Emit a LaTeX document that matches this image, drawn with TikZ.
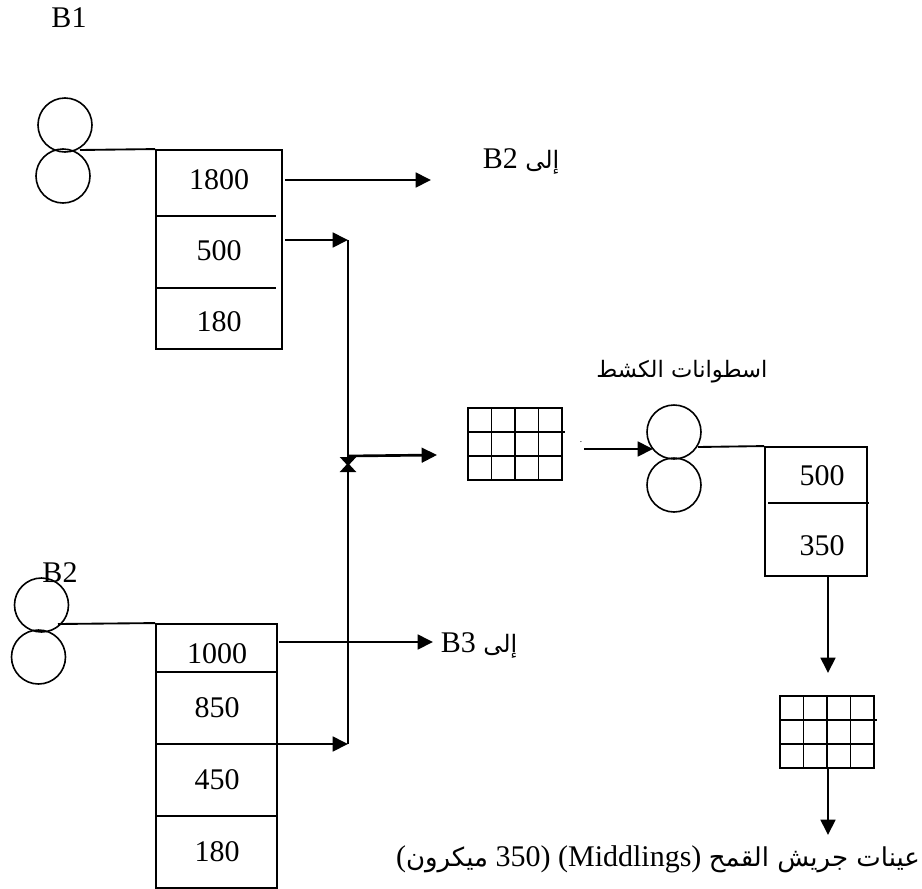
\documentclass[tikz,border=0pt]{standalone}
\usepackage{fontspec}
\setmainfont{Liberation Serif}
\newfontfamily\arabicfont[Script=Arabic]{DejaVu Sans}
\TeXXeTstate=1
\usetikzlibrary{arrows.meta}
\newcommand{\arb}[2][17]{{\arabicfont\fontsize{#1}{20}\selectfont #2}}
\tikzset{
  lbl/.style={inner sep=0pt,font=\fontsize{22.5}{27}\selectfont},
  roller/.style={shape=circle,draw=black,line width=1.2pt,minimum size=40.5pt,inner sep=0pt},
  sifter/.style={shape=rectangle,draw=black,line width=1.4pt,inner sep=0pt},
  cell/.style={draw=black,line width=1.4pt},
  feed/.style={-{Triangle[length=11.5pt,width=11pt]},draw=black,line width=2pt},
  meet/.style={-{Triangle[length=6.75pt,width=12pt]},draw=black,line width=2pt},
  sieve/.pic={
    \node[shape=rectangle,draw=black,line width=1.4pt,minimum width=70.5pt,minimum height=54pt,inner sep=0pt] (-frame) at (0,0) {};
    \foreach \x in {-23.5,0,23.5} \draw[cell] (\x,-36) -- (\x,36);
    \draw[cell] (-47,-12) -- (50,-12);
    \draw[cell] (-47,12) -- (47,12);
  }
}
\begin{document}
\begin{tikzpicture}[x=0.75pt,y=-0.75pt]
\useasboundingbox (0,0) rectangle (922,889);

\node[lbl] (b1) at (69,18) {B1};
\node[lbl] (b2) at (60,573) {B2};

\node[roller] (roll1a) at (65,125) {};
\node[roller] (roll1b) at (63,176) {};
\node[roller] (roll2a) at (41.5,605) {};
\node[roller] (roll2b) at (38.5,657) {};
\node[roller] (roll3a) at (674,432) {};
\node[roller] (roll3b) at (674,485) {};

\node[sifter,minimum width=94.5pt,minimum height=149.25pt] (box1) at (219,249.5) {};
\node[sifter,minimum width=90.75pt,minimum height=198pt] (box2) at (216.5,756) {};
\node[sifter,minimum width=76.5pt,minimum height=96.75pt] (box3) at (816,511.5) {};

\draw[cell] (156,216) -- (276,216);
\draw[cell] (156,288) -- (276,288);
\draw[cell] (156,672) -- (277,672);
\draw[cell] (156,744) -- (277,744);
\draw[cell] (156,816) -- (277,816);
\draw[cell] (768,503) -- (869,503);

\node[lbl] (v1800) at (219,180) {1800};
\node[lbl] (v500a) at (219,251) {500};
\node[lbl] (v180a) at (219,322) {180};
\node[lbl] (v1000) at (217,654) {1000};
\node[lbl] (v850) at (217,708) {850};
\node[lbl] (v450) at (217,780) {450};
\node[lbl] (v180b) at (217,852) {180};
\node[lbl] (v500b) at (822,476) {500};
\node[lbl] (v350) at (822,546) {350};

\pic (sieve1) at (515,444) {sieve};
\pic (sieve2) at (827,732) {sieve};

\node[lbl] (toB2) at (521,161) {\beginR\arb[18]{إلى} \beginL B2\endL\endR};
\node[lbl] (toB3) at (479,645) {\beginR\arb[18]{إلى} \beginL B3\endL\endR};
\node[lbl] (scratch) at (682,372) {\beginR\arb{اسطوانات الكشط}\endR};
\node[lbl] (sample) at (658,859) {\beginR\arb[19.5]{عينات جريش القمح} \beginL (Middlings)\endL{} \beginL 350)\endL{} \arb[19.5]{ميكرون}\beginL(\endL\endR};
\node[inner sep=0pt,font=\scriptsize] (speck) at (581,442) {.};

\coordinate (out1800) at (285,180);
\coordinate (end1800) at (431,180);
\coordinate (out500) at (285,240);
\coordinate (top) at (348,240);
\coordinate (mida) at (348,466);
\coordinate (midb) at (348,463);
\coordinate (bot) at (348,744);
\coordinate (branch) at (348,456);
\coordinate (endbranch) at (437,455);
\coordinate (in3a) at (584,449);
\coordinate (end3a) at (653,449);
\coordinate (out1000) at (279,642);
\coordinate (end1000) at (433,642);
\coordinate (arrow1) at (828,673);
\coordinate (arrow2) at (828,835);
\coordinate (cut1) at (80,150);
\coordinate (cut2) at (58,624);
\coordinate (cut3) at (698,447);

\draw [cell] (cut1) -- (box1.north west);
\draw [cell] (cut2) -- (box2.north west);
\draw [cell] (cut3) -- (box3.north west);

\draw [feed] (out1800) -- (end1800);
\draw [feed] (out1000) -- (end1000);
\draw [feed] (box2.east |- bot) -- (bot);
\draw [feed] (out500) -- (top);
\draw [feed] (branch) -- (endbranch);
\draw [feed] (in3a) -- (end3a);
\draw [feed] (box3.south -| arrow1) -- (arrow1);
\draw [feed] (sieve2-frame.south -| arrow2) -- (arrow2);
\draw [meet] (top) -- (mida);
\draw [meet] (bot) -- (midb);
\end{tikzpicture}
\end{document}
